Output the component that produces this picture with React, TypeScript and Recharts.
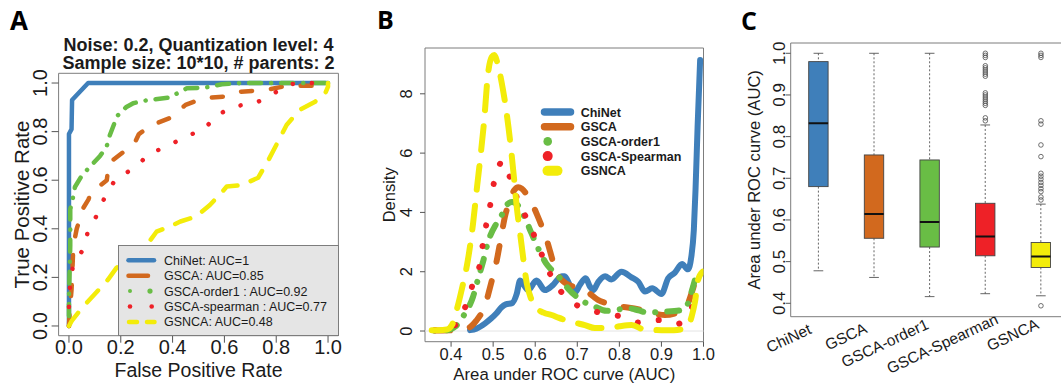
import React from "react";
import {
  ComposedChart,
  Line,
  Bar,
  Scatter,
  XAxis,
  YAxis,
  Legend,
  ReferenceArea,
  ReferenceLine,
} from "recharts";

const FONT = '"Liberation Sans", Arial, Helvetica, sans-serif';
const LETTER_FONT = '"Open Sans", "Liberation Sans", Arial, sans-serif';
const INK = "#1b1b1b";
const FRAME = "#7d7d7d";

// shared by all three panels
const methods = ["ChiNet", "GSCA", "GSCA-order1", "GSCA-Spearman", "GSNCA"];
const methodColors = ["#3f7fba", "#d2691e", "#69bd45", "#ee2127", "#f3ec0a"];
const rocLegendLabels = [
  "ChiNet: AUC=1",
  "GSCA: AUC=0.85",
  "GSCA-order1 : AUC=0.92",
  "GSCA-spearman : AUC=0.77",
  "GSNCA: AUC=0.48",
];

// panel A: ROC curves as [false positive rate, true positive rate]
const rocChiNet: [number, number][] = [
  [0, 0], [0, 0.79], [0.01, 0.81], [0.012, 0.93], [0.074, 1], [1, 1],
];
const rocGsca: [number, number][] = [
  [0, 0], [0.003, 0.06], [0.01, 0.15], [0.012, 0.2], [0.017, 0.33], [0.03, 0.4],
  [0.055, 0.485], [0.075, 0.52], [0.084, 0.547], [0.146, 0.6], [0.154, 0.67],
  [0.21, 0.716], [0.25, 0.745], [0.27, 0.79], [0.32, 0.827], [0.39, 0.856],
  [0.45, 0.91], [0.52, 0.938], [0.6, 0.944], [0.66, 0.964], [0.757, 0.971],
  [0.84, 0.988], [1, 0.99], [1, 1],
];
const rocOrder1: [number, number][] = [
  [0, 0], [0, 0.12], [0.003, 0.24], [0.005, 0.33], [0.005, 0.48], [0.02, 0.55],
  [0.023, 0.572], [0.05, 0.62], [0.088, 0.663], [0.12, 0.7], [0.145, 0.737],
  [0.158, 0.786], [0.186, 0.864], [0.22, 0.9], [0.248, 0.917], [0.306, 0.93],
  [0.387, 0.94], [0.455, 0.978], [0.52, 0.98], [0.59, 0.995], [0.67, 1], [1, 1],
];
const rocSpearman: [number, number][] = [
  [0, 0], [0, 0.08], [0.004, 0.17], [0.015, 0.245], [0.053, 0.313], [0.075, 0.395],
  [0.113, 0.465], [0.143, 0.543], [0.184, 0.61], [0.255, 0.65], [0.31, 0.71],
  [0.383, 0.74], [0.448, 0.78], [0.52, 0.807], [0.57, 0.868], [0.644, 0.905],
  [0.72, 0.917], [0.786, 0.955], [0.856, 0.996], [0.94, 1], [1, 1],
];
const rocGsnca: [number, number][] = [
  [0, 0], [0.01, 0.02], [0.05, 0.074], [0.107, 0.14], [0.15, 0.19], [0.184, 0.24],
  [0.235, 0.285], [0.3, 0.333], [0.338, 0.388], [0.39, 0.41], [0.43, 0.43],
  [0.49, 0.45], [0.544, 0.498], [0.59, 0.55], [0.609, 0.574], [0.667, 0.58],
  [0.73, 0.61], [0.77, 0.683], [0.807, 0.759], [0.84, 0.827], [0.89, 0.889],
  [0.95, 0.923], [0.99, 0.96], [1, 0.985], [1, 1],
];
const unitTicks = [0, 0.2, 0.4, 0.6, 0.8, 1];

// panel B: density of AUC as [auc, density]
const densChiNet: [number, number][] = [
  [0.445, 0.03], [0.46, 0.08], [0.481, 0.26], [0.495, 0.42], [0.508, 0.6], [0.52, 0.8],
  [0.53, 0.9], [0.545, 0.94], [0.556, 1.25], [0.564, 1.7], [0.583, 1.38], [0.603, 1.7],
  [0.623, 1.38], [0.642, 1.55], [0.663, 1.85], [0.67, 1.85], [0.682, 1.55], [0.694, 1.29],
  [0.706, 1.55], [0.72, 1.78], [0.73, 1.5], [0.738, 1.38], [0.75, 1.66], [0.766, 1.85],
  [0.781, 1.74], [0.805, 2.0], [0.829, 1.81], [0.845, 1.66], [0.861, 1.33], [0.878, 1.44],
  [0.9, 1.25], [0.916, 1.78], [0.932, 1.97], [0.949, 2.26], [0.963, 2.08], [0.971, 2.5],
  [0.977, 3.4], [0.981, 4.75], [0.986, 6.9], [0.992, 9.14],
];
const densGsca: [number, number][] = [
  [0.36, 0.02], [0.38, 0.02], [0.405, 0.03], [0.44, 0.1], [0.46, 0.35], [0.481, 0.88],
  [0.495, 1.6], [0.508, 2.34], [0.518, 3.1], [0.528, 3.86], [0.54, 4.4], [0.55, 4.75],
  [0.56, 4.85], [0.568, 4.8], [0.58, 4.6], [0.588, 4.42], [0.605, 3.9], [0.619, 3.4],
  [0.63, 2.95], [0.639, 2.5], [0.647, 2.1], [0.663, 1.72], [0.69, 1.5], [0.718, 1.38],
  [0.749, 1.05], [0.78, 0.9], [0.805, 0.82], [0.844, 0.74], [0.88, 0.6], [0.908, 0.54],
  [0.943, 0.65], [0.962, 0.9], [0.974, 1.38], [0.986, 1.89], [0.998, 1.9],
];
const densOrder1: [number, number][] = [
  [0.36, 0.02], [0.39, 0.03], [0.41, 0.15], [0.428, 0.48], [0.452, 1.15], [0.465, 1.8],
  [0.476, 2.34], [0.488, 3.01], [0.508, 3.63], [0.52, 3.9], [0.532, 4.25], [0.545, 4.35],
  [0.558, 4.25], [0.576, 3.8], [0.591, 3.3], [0.611, 2.67], [0.625, 2.3], [0.639, 2.06],
  [0.663, 1.72], [0.68, 1.4], [0.698, 1.16], [0.72, 0.95], [0.742, 0.82], [0.769, 0.68],
  [0.795, 0.72], [0.821, 0.77], [0.845, 0.7], [0.868, 0.62], [0.9, 0.65], [0.951, 0.71],
  [0.965, 1.0], [0.975, 1.49], [0.983, 1.83], [0.998, 1.9],
];
const densSpearman: [number, number][] = [
  [0.362, 0.03], [0.38, 0.03], [0.4, 0.12], [0.417, 0.31], [0.437, 0.94], [0.452, 1.6],
  [0.469, 2.3], [0.476, 2.98], [0.485, 3.69], [0.495, 4.4], [0.503, 5.09], [0.512, 5.5],
  [0.522, 5.73], [0.532, 5.5], [0.542, 5.09], [0.559, 4.4], [0.58, 3.78], [0.6, 3.14],
  [0.619, 2.46], [0.639, 1.82], [0.666, 1.25], [0.685, 1.0], [0.706, 0.82], [0.754, 0.62],
  [0.801, 0.5], [0.849, 0.28], [0.896, 0.37], [0.939, 0.24], [0.971, 0.77], [0.998, 1.38],
];
const densGsnca: [number, number][] = [
  [0.354, 0.03], [0.37, 0.03], [0.39, 0.05], [0.402, 0.2], [0.415, 0.8], [0.425, 1.38],
  [0.44, 2.4], [0.452, 3.6], [0.462, 4.9], [0.47, 5.9], [0.478, 7.0], [0.488, 8.7],
  [0.497, 9.25], [0.503, 9.31], [0.509, 9.1], [0.52, 8.4], [0.532, 7.35], [0.542, 6.2],
  [0.55, 5.1], [0.556, 4.2], [0.564, 3.3], [0.572, 2.4], [0.58, 1.6], [0.59, 1.1],
  [0.6, 0.82], [0.62, 0.62], [0.639, 0.54], [0.655, 0.45], [0.671, 0.37], [0.695, 0.28],
  [0.718, 0.2], [0.742, 0.1], [0.773, 0.1], [0.8, 0.16], [0.829, 0.2], [0.86, 0.05],
  [0.9, 0.03], [0.93, 0.03], [0.952, 0.08], [0.963, 0.15], [0.972, 0.5], [0.98, 1.0],
  [0.987, 1.72], [0.998, 2.0],
];
const aucTicks = [0.4, 0.5, 0.6, 0.7, 0.8, 0.9, 1.0];
const densityTicks = [0, 2, 4, 6, 8];

// panel C: boxplot of AUC per method
const boxWhiskerLow = [0.478, 0.462, 0.416, 0.423, 0.418];
const boxQ1 = [0.68, 0.556, 0.535, 0.514, 0.486];
const boxMedian = [0.832, 0.614, 0.595, 0.56, 0.512];
const boxQ3 = [0.98, 0.756, 0.744, 0.64, 0.546];
const boxWhiskerHigh = [1.0, 1.0, 1.0, 0.828, 0.638];
const spearmanOutliers = [
  1.0, 0.995, 0.99, 0.97, 0.965, 0.96, 0.955, 0.95, 0.945, 0.905, 0.9, 0.895, 0.89,
  0.885, 0.88, 0.875, 0.845, 0.838,
];
const gsncaOutliers = [
  1.0, 0.995, 0.99, 0.838, 0.83, 0.78, 0.752, 0.712, 0.705, 0.698, 0.69, 0.683, 0.675,
  0.668, 0.655, 0.648, 0.394,
];
const boxTicks = [0.4, 0.5, 0.6, 0.7, 0.8, 0.9, 1.0];

const rocDash = [undefined, "11 19", "0.1 10 12 10", "0.1 19", "16 14"];
const densDash = [undefined, "16 20", "0.1 12 12 12", "0.1 21", "24 16"];

const toRoc = (pts: [number, number][]) => pts.map(([fpr, tpr]) => ({ fpr, tpr }));
const toDens = (pts: [number, number][]) => pts.map(([auc, density]) => ({ auc, density }));

const rocSeries = [rocChiNet, rocGsca, rocOrder1, rocSpearman, rocGsnca].map((pts, i) => ({
  name: methods[i],
  data: toRoc(pts),
}));
const densSeries = [densChiNet, densGsca, densOrder1, densSpearman, densGsnca].map((pts, i) => ({
  name: methods[i],
  data: toDens(pts),
}));
const boxRows = methods.map((name, i) => ({
  pos: i + 1,
  name,
  whiskerLow: boxWhiskerLow[i],
  q1: boxQ1[i],
  median: boxMedian[i],
  q3: boxQ3[i],
  whiskerHigh: boxWhiskerHigh[i],
}));
const outlierPoints = [
  ...spearmanOutliers.map((auc) => ({ pos: 4, auc })),
  ...gsncaOutliers.map((auc) => ({ pos: 5, auc })),
];

function RotatedYTick(props: any) {
  const { x, y, payload, size, digits } = props;
  return (
    <text x={x} y={y} transform={`rotate(-90 ${x} ${y})`} textAnchor="middle" fontSize={size} fontFamily={FONT} fill={INK}>
      {Number(payload.value).toFixed(digits)}
    </text>
  );
}

function CenteredXTick(props: any) {
  const { x, y, payload, size, drop, digits } = props;
  return (
    <text x={x} y={y + drop} textAnchor="middle" fontSize={size} fontFamily={FONT} fill={INK}>
      {Number(payload.value).toFixed(digits)}
    </text>
  );
}

// rotated category names under panel C, nudged like the original figure
const boxLabelNudge = [
  [-6, 16.3],
  [-6, 15.3],
  [0, 11.3],
  [14, 6.3],
  [-1, 11.3],
];
function BoxNameTick(props: any) {
  const { x, y, payload } = props;
  const i = Math.round(payload.value) - 1;
  if (i < 0 || i >= methods.length) return null;
  const px = x + boxLabelNudge[i][0];
  const py = y + boxLabelNudge[i][1];
  return (
    <text x={px} y={py} transform={`rotate(-25 ${px} ${py})`} textAnchor="end" fontSize={15.5} fontFamily={FONT} fill={INK}>
      {methods[i]}
    </text>
  );
}

const xTitle = (text: string, size: number, below: number) => (p: any) => {
  const vb = p.viewBox;
  return (
    <text x={vb.x + vb.width / 2} y={vb.y + below} textAnchor="middle" fontSize={size} fontFamily={FONT} fill={INK}>
      {text}
    </text>
  );
};
const yTitle = (text: string, size: number, away: number) => (p: any) => {
  const vb = p.viewBox;
  const x = vb.x + vb.width - away;
  const y = vb.y + vb.height / 2;
  return (
    <text x={x} y={y} transform={`rotate(-90 ${x} ${y})`} textAnchor="middle" fontSize={size} fontFamily={FONT} fill={INK}>
      {text}
    </text>
  );
};

function RocLegendBox() {
  const rowY = (i: number) => 15.3 + i * 15.4;
  const c = methodColors;
  return (
    <svg width={221} height={91} style={{ display: "block" }}>
      <rect x={0.5} y={0.5} width={220} height={90} fill="#e5e5e5" stroke={FRAME} />
      <line x1={10.5} x2={36} y1={rowY(0)} y2={rowY(0)} stroke={c[0]} strokeWidth={4.5} strokeLinecap="round" />
      <line x1={10.5} x2={30} y1={rowY(1)} y2={rowY(1)} stroke={c[1]} strokeWidth={4.5} strokeLinecap="round" />
      <circle cx={12} cy={rowY(2)} r={2} fill={c[2]} />
      <circle cx={32} cy={rowY(2)} r={2.6} fill={c[2]} />
      <circle cx={12} cy={rowY(3)} r={2.3} fill={c[3]} />
      <circle cx={33.7} cy={rowY(3)} r={2.3} fill={c[3]} />
      <line x1={11} x2={19} y1={rowY(4)} y2={rowY(4)} stroke={c[4]} strokeWidth={4.5} strokeLinecap="round" />
      <line x1={29} x2={36.5} y1={rowY(4)} y2={rowY(4)} stroke={c[4]} strokeWidth={4.5} strokeLinecap="round" />
      {rocLegendLabels.map((label, i) => (
        <text key={label} x={46} y={rowY(i) + 4.5} fontSize={12.5} fontFamily={FONT} fill={INK}>
          {label}
        </text>
      ))}
    </svg>
  );
}

function DensityLegendBox() {
  const rowY = (i: number) => 10 + i * 14.7;
  const c = methodColors;
  return (
    <svg width={160} height={80} style={{ display: "block" }}>
      <line x1={9.5} x2={35.5} y1={rowY(0)} y2={rowY(0)} stroke={c[0]} strokeWidth={7.5} strokeLinecap="round" />
      <line x1={9.5} x2={35.5} y1={rowY(1)} y2={rowY(1)} stroke={c[1]} strokeWidth={7.5} strokeLinecap="round" />
      <circle cx={12.7} cy={rowY(2)} r={4.3} fill={c[2]} />
      <circle cx={12.7} cy={rowY(3)} r={5} fill={c[3]} />
      <line x1={12.5} x2={22.5} y1={rowY(4)} y2={rowY(4)} stroke={c[4]} strokeWidth={10} strokeLinecap="round" />
      {methods.map((name, i) => (
        <text key={name} x={45.7} y={rowY(i) + 4.5} fontSize={12.5} fontWeight="bold" fontFamily={FONT} fill={INK}>
          {name}
        </text>
      ))}
    </svg>
  );
}

function RocPanel() {
  return (
    <div style={{ position: "absolute", left: 0, top: 0 }}>
      <ComposedChart width={345} height={387} margin={{ top: 73.3, right: 6.6, bottom: 11.3, left: 18.6 }}>
        <XAxis
          type="number"
          dataKey="fpr"
          domain={[-0.04, 1.04]}
          ticks={unitTicks}
          interval={0}
          allowDataOverflow
          height={40}
          axisLine={false}
          tickSize={7}
          tickMargin={2}
          tickLine={{ stroke: "#555" }}
          tick={(p: any) => <CenteredXTick {...p} size={20} drop={9.3} digits={1} />}
          label={{ content: xTitle("False Positive Rate", 19.5, 40.8) }}
        />
        <YAxis
          type="number"
          domain={[-0.04, 1.04]}
          ticks={unitTicks}
          interval={0}
          allowDataOverflow
          width={40}
          axisLine={false}
          tickSize={7}
          tickMargin={5}
          tickLine={{ stroke: "#555" }}
          tick={(p: any) => <RotatedYTick {...p} size={20} digits={1} />}
          label={{ content: yTitle("True Positive Rate", 20.5, 30.1) }}
        />
        <ReferenceArea x1={-0.04} x2={1.04} y1={-0.04} y2={1.04} fill="none" stroke={FRAME} strokeWidth={1} />
        {rocSeries.map((s, i) => (
          <Line
            key={s.name}
            data={s.data}
            dataKey="tpr"
            name={s.name}
            type="linear"
            stroke={methodColors[i]}
            strokeWidth={4.5}
            strokeDasharray={rocDash[i]}
            strokeLinecap="round"
            strokeLinejoin="round"
            dot={false}
            activeDot={false}
            isAnimationActive={false}
          />
        ))}
        <Legend
          layout="vertical"
          align="center"
          verticalAlign="middle"
          content={() => <RocLegendBox />}
          wrapperStyle={{ left: 118, top: 245.2, width: 221, height: 91 }}
        />
      </ComposedChart>
    </div>
  );
}

function DensityPanel() {
  return (
    <div style={{ position: "absolute", left: 345, top: 0 }}>
      <ComposedChart width={370} height={387} margin={{ top: 48, right: 11.5, bottom: 5.3, left: 40 }}>
        <XAxis
          type="number"
          dataKey="auc"
          domain={[0.338, 1.0]}
          ticks={aucTicks}
          interval={0}
          allowDataOverflow
          height={40}
          axisLine={false}
          tickSize={5}
          tickMargin={2}
          tickLine={{ stroke: "#555" }}
          tick={(p: any) => <CenteredXTick {...p} size={16.5} drop={11.3} digits={1} />}
          label={{ content: xTitle("Area under ROC curve (AUC)", 16.8, 38.3) }}
        />
        <YAxis
          type="number"
          domain={[-0.36, 9.545]}
          ticks={densityTicks}
          interval={0}
          allowDataOverflow
          width={40}
          axisLine={false}
          tickSize={5}
          tickMargin={8.3}
          tickLine={{ stroke: "#555" }}
          tick={(p: any) => <RotatedYTick {...p} size={16.5} digits={0} />}
          label={{ content: yTitle("Density", 16.5, 30) }}
        />
        <ReferenceArea x1={0.338} x2={1.0} y1={-0.36} y2={9.545} fill="none" stroke={FRAME} strokeWidth={1} />
        <ReferenceLine y={0} stroke="#e4e4e4" strokeWidth={1} />
        {densSeries.map((s, i) => (
          <Line
            key={s.name}
            data={s.data}
            dataKey="density"
            name={s.name}
            type="monotone"
            stroke={methodColors[i]}
            strokeWidth={6}
            strokeDasharray={densDash[i]}
            strokeLinecap="round"
            strokeLinejoin="round"
            dot={false}
            activeDot={false}
            isAnimationActive={false}
          />
        ))}
        <Legend
          layout="vertical"
          align="center"
          verticalAlign="middle"
          content={() => <DensityLegendBox />}
          wrapperStyle={{ left: 190, top: 102, width: 160, height: 80 }}
        />
      </ComposedChart>
    </div>
  );
}

function BoxShape(props: any) {
  const { x, y, width, height, payload, fill } = props;
  if (!payload) return null;
  const top = Math.min(y, y + height);
  const span = Math.abs(height);
  const range = payload.whiskerHigh - payload.whiskerLow;
  const yOf = (v: number) => top + ((payload.whiskerHigh - v) / range) * span;
  const cx = x + width / 2;
  const cap = width / 4;
  return (
    <g>
      <line x1={cx} x2={cx} y1={yOf(payload.whiskerHigh)} y2={yOf(payload.q3)} stroke="#555" strokeWidth={0.9} strokeDasharray="2 2" />
      <line x1={cx} x2={cx} y1={yOf(payload.q1)} y2={yOf(payload.whiskerLow)} stroke="#555" strokeWidth={0.9} strokeDasharray="2 2" />
      <line x1={cx - cap} x2={cx + cap} y1={yOf(payload.whiskerHigh)} y2={yOf(payload.whiskerHigh)} stroke="#555" strokeWidth={0.9} />
      <line x1={cx - cap} x2={cx + cap} y1={yOf(payload.whiskerLow)} y2={yOf(payload.whiskerLow)} stroke="#555" strokeWidth={0.9} />
      <rect x={x} y={yOf(payload.q3)} width={width} height={yOf(payload.q1) - yOf(payload.q3)} fill={fill} stroke="#444" strokeWidth={0.9} />
      <line x1={x} x2={x + width} y1={yOf(payload.median)} y2={yOf(payload.median)} stroke="#111" strokeWidth={2} />
    </g>
  );
}

function OutlierRing(props: any) {
  const { cx, cy } = props;
  return <circle cx={cx} cy={cy} r={2.3} fill="none" stroke="#4d4d4d" strokeWidth={0.8} />;
}

function BoxPanel() {
  return (
    <div style={{ position: "absolute", left: 715, top: 0 }}>
      <ComposedChart width={360} height={387} data={boxRows} margin={{ top: 43, right: 6.25, bottom: 20.3, left: 35.7 }}>
        <XAxis
          type="number"
          dataKey="pos"
          domain={[0.5, 5.5]}
          ticks={[1, 2, 3, 4, 5]}
          interval={0}
          allowDataOverflow
          height={50}
          axisLine={false}
          tickLine={false}
          tickSize={0}
          tickMargin={0}
          tick={(p: any) => <BoxNameTick {...p} />}
        />
        <YAxis
          type="number"
          domain={[0.3678, 1.0247]}
          ticks={boxTicks}
          interval={0}
          allowDataOverflow
          width={40}
          axisLine={false}
          tickSize={5}
          tickMargin={1}
          tickLine={{ stroke: "#555" }}
          tick={(p: any) => <RotatedYTick {...p} size={17} digits={1} />}
          label={{ content: yTitle("Area under ROC curve (AUC)", 16.6, 30.7) }}
        />
        <ReferenceArea x1={0.5} x2={5.5} y1={0.3678} y2={1.0247} fill="none" stroke={FRAME} strokeWidth={1} />
        <Bar
          dataKey={(d: any) => [d.whiskerLow, d.whiskerHigh]}
          barSize={19.4}
          isAnimationActive={false}
          shape={(p: any) => <BoxShape {...p} fill={methodColors[p.index]} />}
        />
        <Scatter data={outlierPoints} dataKey="auc" shape={(p: any) => <OutlierRing {...p} />} isAnimationActive={false} />
      </ComposedChart>
    </div>
  );
}

export default function App() {
  return (
    <div
      style={{
        position: "absolute",
        left: 0,
        top: 0,
        width: 1061,
        height: 387,
        overflow: "hidden",
        background: "#fff",
      }}
    >
      <RocPanel />
      <DensityPanel />
      <BoxPanel />
      <svg width={1061} height={387} style={{ position: "absolute", left: 0, top: 0, pointerEvents: "none" }}>
        <text x={10} y={30} fontSize={26} fontWeight="bold" fontFamily={LETTER_FONT} fill="#000">A</text>
        <text x={377} y={28.5} fontSize={25} fontWeight="bold" fontFamily={LETTER_FONT} fill="#000">B</text>
        <text x={741} y={29.5} fontSize={25} fontWeight="bold" fontFamily={LETTER_FONT} fill="#000">C</text>
        <text x={198.5} y={50.5} textAnchor="middle" fontSize={18} fontWeight="bold" fontFamily={FONT} fill={INK}>
          Noise: 0.2, Quantization level: 4
        </text>
        <text x={198.5} y={69} textAnchor="middle" fontSize={18} fontWeight="bold" fontFamily={FONT} fill={INK}>
          Sample size: 10*10, # parents: 2
        </text>
      </svg>
    </div>
  );
}
